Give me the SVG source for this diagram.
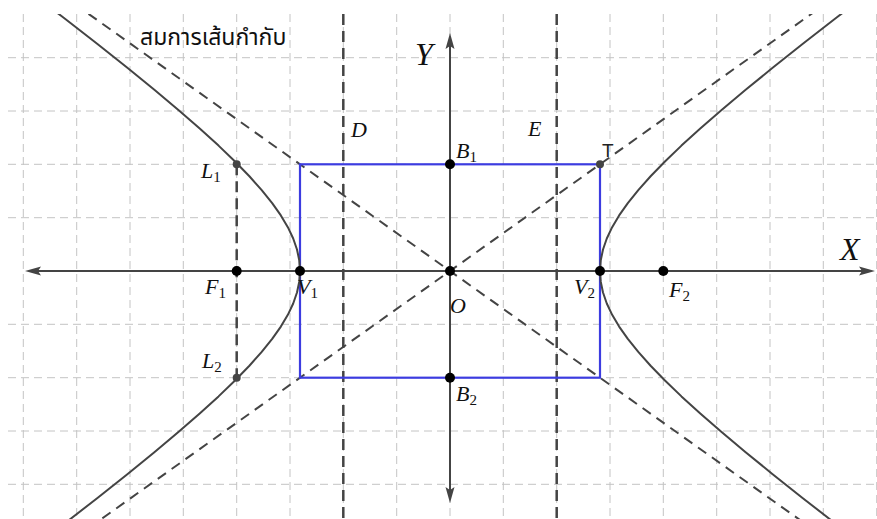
<svg xmlns="http://www.w3.org/2000/svg" width="877" height="519" viewBox="0 0 877 519">
<style>
.grid{stroke:#c4c4c4;stroke-width:1;stroke-dasharray:8 5;fill:none}
.axis{stroke:#444;stroke-width:2;fill:none}
.curve{stroke:#444;stroke-width:2;fill:none;stroke-linejoin:round}
.asym{stroke:#444;stroke-width:2;stroke-dasharray:10 7;fill:none}
.dir{stroke:#444;stroke-width:2.5;stroke-dasharray:11 6;fill:none}
.rect{stroke:#3c3ce0;stroke-width:2.2;fill:none}
.pt{fill:#000}
.pt2{fill:#444}
.lbl{font-family:"Liberation Serif","DejaVu Serif",serif;font-style:italic;font-size:22px;fill:#111}
.sub{font-style:normal;font-size:15px}
.big{font-family:"Liberation Serif","DejaVu Serif",serif;font-style:italic;font-size:32px;fill:#111}
.thai{font-family:"Noto Sans Thai","Noto Sans","DejaVu Sans",sans-serif;font-size:23px;fill:#111}
</style>
<defs>
<clipPath id="plot"><rect x="0" y="14" width="877" height="505"/></clipPath>
</defs>
<rect width="877" height="519" fill="#fff"/>
<g id="grid" class="grid" clip-path="url(#plot)">
<path d="M23.3 14V519M76.7 14V519M130 14V519M183.3 14V519M236.7 14V519M290 14V519M343.3 14V519M396.7 14V519M450 14V519M503.3 14V519M556.7 14V519M610 14V519M663.3 14V519M716.7 14V519M770 14V519M823.3 14V519M876.7 14V519"/>
<path d="M8 57.7H877M8 111H877M8 164.3H877M8 217.7H877M8 324.3H877M8 377.7H877M8 431H877M8 484.3H877"/>
</g>
<g id="connectors" clip-path="url(#plot)">
<path id="asymptote1" class="asym" d="M-50 -84.7L950 626.7"/>
<path id="asymptote2" class="asym" d="M-50 626.7L950 -84.7"/>
<path id="directrixD" class="dir" d="M343.3 14V519"/>
<path id="directrixE" class="dir" d="M556.7 14V519"/>
<path id="latus" class="dir" d="M236.7 164.3V377.7"/>
<rect id="box" class="rect" x="300" y="164.3" width="300" height="213.4"/>
<polyline id="branchR" class="curve" points="874.25,-11.29 836.62,17.53 802.86,43.81 772.64,67.81 745.64,89.78 721.60,109.94 700.28,128.49 681.46,145.61 664.96,161.47 650.61,176.24 638.28,190.06 627.82,203.07 619.14,215.40 612.16,227.17 606.80,238.51 603.01,249.52 600.75,260.31 600,271 600.75,281.69 603.01,292.48 606.80,303.49 612.16,314.83 619.14,326.60 627.82,338.93 638.28,351.94 650.61,365.76 664.96,380.53 681.46,396.39 700.28,413.51 721.60,432.06 745.64,452.22 772.64,474.19 802.86,498.19 836.62,524.47 874.25,553.29"/>
<polyline id="branchL" class="curve" points="25.75,-11.29 63.38,17.53 97.14,43.81 127.36,67.81 154.36,89.78 178.40,109.94 199.72,128.49 218.54,145.61 235.04,161.47 249.39,176.24 261.72,190.06 272.18,203.07 280.86,215.40 287.84,227.17 293.20,238.51 296.99,249.52 299.25,260.31 300,271 299.25,281.69 296.99,292.48 293.20,303.49 287.84,314.83 280.86,326.60 272.18,338.93 261.72,351.94 249.39,365.76 235.04,380.53 218.54,396.39 199.72,413.51 178.40,432.06 154.36,452.22 127.36,474.19 97.14,498.19 63.38,524.47 25.75,553.29"/>
<path id="xaxis" class="axis" d="M36 271H864"/>
<path id="yaxis" class="axis" d="M450 46V491"/>
<path fill="#444" d="M875 271L859 266.5L862 271L859 275.5Z"/>
<path fill="#444" d="M25 271L41 266.5L38 271L41 275.5Z"/>
<path fill="#444" d="M450 33L445.5 49L450 46L454.5 49Z"/>
<path fill="#444" d="M450 503L445.5 487L450 490L454.5 487Z"/>
</g>
<g id="label-title"><text class="thai" x="140" y="45">สมการเส้นกำกับ</text></g>
<g id="label-Y"><text class="big" x="415" y="65">Y</text></g>
<g id="label-X"><text class="big" x="840" y="260">X</text></g>
<g id="label-D"><text class="lbl" x="351" y="137">D</text></g>
<g id="label-E"><text class="lbl" x="528" y="136">E</text></g>
<g id="node-L1"><circle class="pt2" cx="236.7" cy="164.3" r="4"/><text class="lbl" x="201" y="178">L<tspan class="sub" dy="4">1</tspan></text></g>
<g id="node-L2"><circle class="pt2" cx="236.7" cy="377.7" r="4"/><text class="lbl" x="202" y="368">L<tspan class="sub" dy="4">2</tspan></text></g>
<g id="node-F1"><circle class="pt" cx="236.7" cy="271" r="5"/><text class="lbl" x="205" y="294">F<tspan class="sub" dy="4">1</tspan></text></g>
<g id="node-V1"><circle class="pt" cx="300" cy="271" r="5"/><text class="lbl" x="297" y="294">V<tspan class="sub" dy="4">1</tspan></text></g>
<g id="node-O"><circle class="pt" cx="450" cy="271" r="5"/><text class="lbl" x="450" y="313">O</text></g>
<g id="node-V2"><circle class="pt" cx="600" cy="271" r="5"/><text class="lbl" x="574" y="294">V<tspan class="sub" dy="4">2</tspan></text></g>
<g id="node-F2"><circle class="pt" cx="663.3" cy="271" r="5"/><text class="lbl" x="669" y="297">F<tspan class="sub" dy="4">2</tspan></text></g>
<g id="node-B1"><circle class="pt" cx="450" cy="164.3" r="5"/><text class="lbl" x="456" y="158">B<tspan class="sub" dy="4">1</tspan></text></g>
<g id="node-B2"><circle class="pt" cx="450" cy="377.7" r="5"/><text class="lbl" x="456" y="401">B<tspan class="sub" dy="4">2</tspan></text></g>
<g id="node-T"><circle class="pt2" cx="600" cy="164.3" r="4"/><text x="602" y="157" style="font-family:'Liberation Sans',sans-serif;font-size:19px;fill:#222">T</text></g>
</svg>
